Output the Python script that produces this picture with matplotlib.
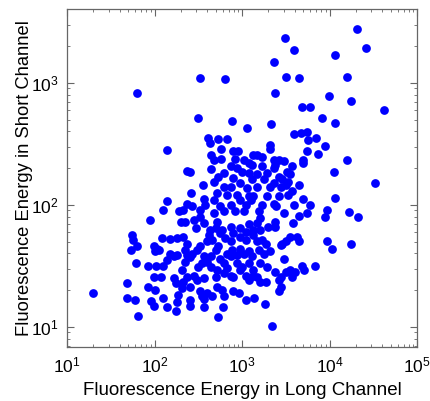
import numpy as np
import matplotlib
matplotlib.use("Agg")
import matplotlib.pyplot as plt
from matplotlib.ticker import LogLocator, FuncFormatter, NullFormatter

plt.rcParams['font.family'] = ['Liberation Sans', 'DejaVu Sans']

# log10 of the fluorescence energy in each channel, one entry per event
long_exp = [
    4.31, 3.49, 4.42, 3.59, 4.06, 3.37, 2.52, 2.81, 3.50, 3.65, 4.20, 1.80, 3.38, 3.99, 4.24,
    3.68, 3.78, 4.62, 2.50, 2.89, 3.91, 3.33, 4.06, 3.06,
    3.59, 3.67, 3.74, 3.75, 3.84, 2.61, 2.63, 2.72, 2.83, 3.32, 3.32, 3.95, 2.14, 2.76,
    2.90, 2.95, 2.65, 2.68, 2.76, 2.92, 3.13, 3.17, 3.23, 3.36, 3.42, 3.48, 3.70, 3.70,
    3.74, 3.87, 4.20, 3.08, 3.11, 3.57, 3.38,
    2.37, 2.41, 2.65, 2.73, 2.94, 3.00, 2.90, 3.08, 3.11, 3.17, 3.29, 3.36, 3.51, 3.55,
    3.42, 3.46, 4.05,
    2.55, 2.68, 2.79, 2.98, 3.17, 2.71, 2.83, 2.94, 3.08, 2.42, 3.36, 3.32, 3.44, 3.50,
    3.53, 3.65, 4.52, 3.57, 3.53, 3.42, 3.29, 4.06, 3.70,
    2.14, 2.10, 2.28, 2.33, 2.37, 2.43, 2.58, 2.52, 2.79, 2.87, 2.92, 3.04, 3.10, 3.23,
    3.19, 3.36, 3.39, 3.59, 3.78, 3.97, 3.48, 3.74, 3.65, 3.95, 4.22, 4.33, 3.02,
    1.95, 2.30, 2.35, 2.45, 2.47, 2.56, 2.71, 2.70, 2.77, 2.87, 2.98, 3.08, 3.17, 3.21,
    3.21, 3.38, 3.38, 3.58,
    1.74, 1.75, 1.80, 1.73, 2.09, 2.18, 2.26, 2.33, 2.37, 1.99, 2.03, 2.01, 2.05, 2.35,
    2.62, 2.66, 2.60, 2.81, 2.87, 2.98, 3.04, 3.13, 3.17, 3.23, 2.52, 2.49, 2.70, 2.89,
    2.98, 3.19, 3.27, 3.32, 3.46, 3.50, 3.55, 3.63, 3.65, 3.44, 3.97, 4.03, 4.24,
    2.18, 2.26, 2.37, 2.43, 2.14, 2.22, 2.35, 1.79, 1.93, 2.02, 2.10, 2.50, 2.41, 2.56,
    2.54, 2.64, 2.64, 2.75, 2.79, 2.87, 2.94, 3.00, 3.02, 3.08, 3.11, 3.21, 3.25, 3.48,
    3.69, 3.83,
    2.31, 1.99, 2.07, 2.22, 2.25, 2.33, 2.37, 2.49, 1.69, 2.45, 2.56, 2.70, 2.79, 2.90,
    3.04, 3.08, 3.17, 3.21, 2.83, 3.13, 3.38, 3.50, 3.55, 3.60, 3.57, 3.44, 3.42, 3.71, 3.27,
    1.93, 2.01, 2.31, 2.41, 2.52, 2.60, 2.54, 2.71, 2.77, 2.79, 2.90, 2.96, 1.30, 1.68,
    1.78, 1.96, 2.10, 2.27, 2.41, 2.57, 2.66, 3.04, 3.14, 3.44, 3.42,
    1.99, 2.14, 2.26, 2.25, 2.41, 2.57, 2.78, 1.81, 2.73, 3.26, 3.34,
    # crowded middle of the cloud
    2.52, 2.63, 2.75, 2.90, 3.04, 3.13, 2.73, 2.83, 2.94, 3.08, 2.60, 2.71, 2.87, 2.98,
    3.13, 2.68, 2.75, 2.98, 3.13, 2.87, 3.06, 3.25, 3.23, 3.02, 2.87, 2.79, 2.56, 2.68,
    3.30, 3.29,
]
short_exp = [
    3.44, 3.37, 3.29, 3.27, 3.23, 3.17, 3.04, 3.03, 3.05, 3.04, 3.05, 2.92, 2.92, 2.89, 2.85,
    2.80, 2.80, 2.78, 2.71, 2.69, 2.71, 2.66, 2.67, 2.63,
    2.58, 2.59, 2.60, 2.53, 2.55, 2.55, 2.51, 2.54, 2.54, 2.49, 2.46, 2.48, 2.45, 2.46,
    2.44, 2.44, 2.41, 2.37, 2.38, 2.38, 2.41, 2.41, 2.39, 2.37, 2.37, 2.36, 2.37, 2.34,
    2.44, 2.42, 2.37, 2.34, 2.33, 2.32, 2.33,
    2.28, 2.27, 2.29, 2.23, 2.30, 2.27, 2.22, 2.26, 2.21, 2.25, 2.26, 2.30, 2.27, 2.25,
    2.23, 2.21, 2.27,
    2.16, 2.19, 2.15, 2.18, 2.15, 2.10, 2.08, 2.08, 2.07, 2.10, 2.18, 2.15, 2.15, 2.16,
    2.19, 2.16, 2.18, 2.11, 2.08, 2.07, 2.07, 2.06, 2.05,
    2.03, 1.96, 1.95, 1.96, 2.01, 1.99, 2.00, 1.96, 1.95, 2.00, 1.95, 2.00, 2.04, 2.00,
    1.95, 2.01, 1.99, 2.00, 2.00, 1.96, 1.93, 1.93, 1.91, 1.90, 1.94, 1.90, 1.95,
    1.88, 1.86, 1.86, 1.88, 1.81, 1.85, 1.86, 1.81, 1.79, 1.82, 1.81, 1.84, 1.85, 1.79,
    1.89, 1.86, 1.82, 1.85,
    1.75, 1.71, 1.66, 1.63, 1.73, 1.72, 1.73, 1.74, 1.68, 1.66, 1.64, 1.62, 1.63, 1.63,
    1.75, 1.71, 1.70, 1.73, 1.70, 1.74, 1.71, 1.75, 1.70, 1.71, 1.66, 1.63, 1.63, 1.63,
    1.64, 1.63, 1.68, 1.62, 1.68, 1.70, 1.74, 1.74, 1.70, 1.67, 1.70, 1.64, 1.68,
    1.60, 1.59, 1.59, 1.60, 1.55, 1.58, 1.53, 1.52, 1.50, 1.50, 1.50, 1.49, 1.57, 1.58,
    1.52, 1.49, 1.58, 1.56, 1.52, 1.58, 1.52, 1.49, 1.60, 1.52, 1.58, 1.52, 1.60, 1.56,
    1.50, 1.50,
    1.47, 1.41, 1.41, 1.40, 1.36, 1.37, 1.41, 1.38, 1.36, 1.42, 1.40, 1.41, 1.44, 1.41,
    1.42, 1.38, 1.41, 1.37, 1.48, 1.47, 1.45, 1.45, 1.47, 1.45, 1.41, 1.41, 1.38, 1.47, 1.37,
    1.33, 1.30, 1.32, 1.33, 1.29, 1.28, 1.25, 1.33, 1.30, 1.25, 1.29, 1.28, 1.28, 1.24,
    1.22, 1.21, 1.24, 1.26, 1.22, 1.23, 1.25, 1.22, 1.24, 1.33, 1.29,
    1.17, 1.16, 1.20, 1.13, 1.17, 1.16, 1.16, 1.09, 1.08, 1.19, 1.01,
    # crowded middle of the cloud
    1.90, 1.79, 1.77, 1.77, 1.78, 1.79, 1.66, 1.60, 1.59, 1.62, 1.53, 1.47, 1.42, 1.47,
    1.42, 1.93, 1.99, 2.04, 2.07, 2.15, 2.14, 2.21, 2.32, 2.37, 2.32, 2.26, 2.05, 2.04,
    1.82, 1.49,
]

long_energy = 10.0 ** np.array(long_exp)
short_energy = 10.0 ** np.array(short_exp)

fig = plt.figure(figsize=(4.3, 4.01), dpi=100)
ax = fig.add_axes([0.156, 0.135, 0.814, 0.843])

ax.plot(long_energy, short_energy, 'o', color='#0000ff', ms=6.3, mew=0, ls='none')

ax.set_xscale('log')
ax.set_yscale('log')
ax.set_xlim(10, 1e5)
ax.set_ylim(6.85, 4050)

# decade labels written as 10^n
dec_fmt = FuncFormatter(lambda v, pos: r'$\mathregular{10^{%d}}$' % round(np.log10(v)))
ax.xaxis.set_major_locator(LogLocator(base=10, numticks=10))
ax.yaxis.set_major_locator(LogLocator(base=10, numticks=10))
ax.xaxis.set_major_formatter(dec_fmt)
ax.yaxis.set_major_formatter(dec_fmt)
ax.xaxis.set_minor_formatter(NullFormatter())
ax.yaxis.set_minor_formatter(NullFormatter())

ax.tick_params(which='both', direction='in', top=True, right=True, colors='#666666',
               labelcolor='black', labelsize=12.5)
ax.tick_params(which='major', length=5, width=0.8, pad=6)
ax.tick_params(which='minor', length=2.5, width=0.6)
for sp in ax.spines.values():
    sp.set_color('#666666')
    sp.set_linewidth(0.9)

ax.set_xlabel('Fluorescence Energy in Long Channel', fontsize=13.5)
ax.set_ylabel('Fluorescence Energy in Short Channel', fontsize=13.2)
ax.xaxis.set_label_coords(0.5, -0.105)
ax.yaxis.set_label_coords(-0.097, 0.5)

fig.savefig('out.png', dpi=100)
